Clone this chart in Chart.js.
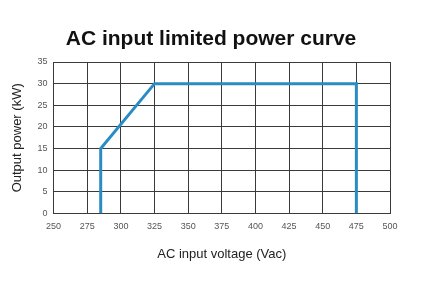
<!DOCTYPE html>
<html lang="en">
<head>
    <meta charset="UTF-8">
    <title>AC input limited power curve</title>
    <style>
        body {
            margin: 0;
            padding: 0;
            background-color: #fff;
        }

        #wrap {
            width: 430px;
            height: 292px;
        }
    </style>
    <script src="https://cdn.jsdelivr.net/npm/chart.js"></script>
</head>
<body>
    <div id="wrap"><canvas id="powerChart"></canvas></div>

    <script>
        const voltage = [285, 285, 325, 475, 475];
        const power = [0, 15, 30, 30, 0];
        const xTicks = [250, 275, 300, 325, 350, 375, 400, 425, 450, 475, 500];
        const yTicks = [0, 5, 10, 15, 20, 25, 30, 35];
        const chartTitle = 'AC input limited power curve';

        const points = voltage.map((v, i) => ({ x: v, y: power[i] }));
        const font = 'Liberation Sans, Arial, sans-serif';

        // title drawn centred on the canvas, not on the chart box
        const centredTitle = {
            id: 'centredTitle',
            afterDraw(chart) {
                const c = chart.ctx;
                c.save();
                c.font = 'bold 21px ' + font;
                c.fillStyle = '#111';
                c.textAlign = 'center';
                c.textBaseline = 'alphabetic';
                c.fillText(chartTitle, 211, 45);
                c.restore();
            }
        };

        const ctx = document.getElementById('powerChart').getContext('2d');
        new Chart(ctx, {
            type: 'line',
            data: {
                datasets: [{
                    data: points,
                    borderColor: '#2b8cc4',
                    borderWidth: 3,
                    pointRadius: 0,
                    tension: 0,
                    fill: false
                }]
            },
            options: {
                responsive: true,
                maintainAspectRatio: false,
                animation: false,
                layout: {
                    padding: { left: 6, right: 40, top: 62, bottom: 26 }
                },
                plugins: {
                    legend: { display: false },
                    tooltip: { enabled: false },
                    title: { display: false }
                },
                scales: {
                    x: {
                        type: 'linear',
                        min: xTicks[0],
                        max: xTicks[xTicks.length - 1],
                        afterBuildTicks: axis => { axis.ticks = xTicks.map(v => ({ value: v })); },
                        grid: { color: '#3a3a3a', drawTicks: false },
                        border: { color: '#3a3a3a' },
                        ticks: {
                            color: '#555',
                            padding: 8,
                            maxRotation: 0,
                            font: { family: font, size: 9 }
                        },
                        title: {
                            display: true,
                            text: 'AC input voltage (Vac)',
                            color: '#222',
                            font: { family: font, size: 13 },
                            padding: { top: 6 }
                        }
                    },
                    y: {
                        min: yTicks[0],
                        max: yTicks[yTicks.length - 1],
                        afterBuildTicks: axis => { axis.ticks = yTicks.map(v => ({ value: v })); },
                        grid: { color: '#3a3a3a', drawTicks: false },
                        border: { color: '#3a3a3a' },
                        ticks: {
                            color: '#555',
                            padding: 6,
                            font: { family: font, size: 9 }
                        },
                        title: {
                            display: true,
                            text: 'Output power (kW)',
                            color: '#222',
                            font: { family: font, size: 13 },
                            padding: { bottom: 6 }
                        }
                    }
                }
            },
            plugins: [centredTitle]
        });
    </script>
</body>
</html>
